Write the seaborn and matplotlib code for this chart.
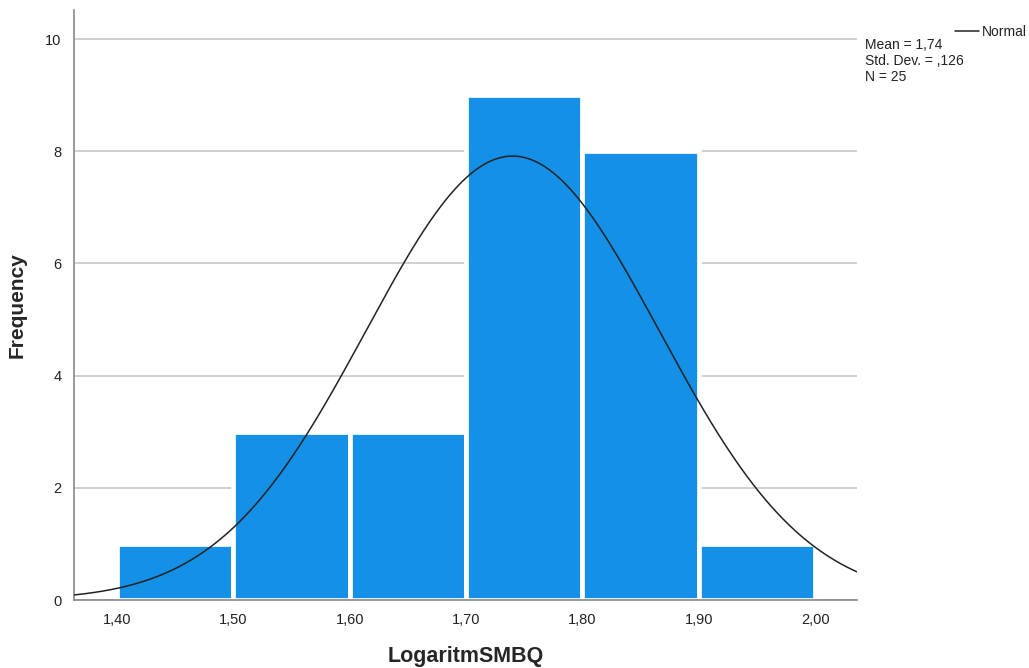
import numpy as np
import pandas as pd
import matplotlib
matplotlib.use("Agg")
import matplotlib.pyplot as plt
import seaborn as sns

bin_edges = [1.40, 1.50, 1.60, 1.70, 1.80, 1.90, 2.00]
counts = [1, 3, 3, 9, 8, 1]
mean_val = 1.74
sd_val = 0.126
n_val = 25
x_tick_labels = ["1,40", "1,50", "1,60", "1,70", "1,80", "1,90", "2,00"]
y_ticks = [0, 2, 4, 6, 8, 10]

sns.set_theme(style="white")
plt.rcParams['font.family'] = ['Liberation Sans', 'DejaVu Sans']

fig = plt.figure(figsize=(10.29, 6.68), dpi=100)
ax = fig.add_axes([74/1029, 1 - 600/668, (857-74)/1029, (600-10)/668])

centers = [(bin_edges[i] + bin_edges[i+1]) / 2 for i in range(len(counts))]
df = pd.DataFrame({"x": centers, "w": counts})
sns.histplot(data=df, x="x", weights="w", bins=bin_edges, ax=ax,
             color="#1490E6", alpha=1, edgecolor="white", linewidth=3.4, zorder=2)

xs = np.linspace(1.363, 2.036, 400)
binw = bin_edges[1] - bin_edges[0]
ys = n_val * binw / (sd_val * np.sqrt(2 * np.pi)) * np.exp(-0.5 * ((xs - mean_val) / sd_val) ** 2)
sns.lineplot(x=xs, y=ys, ax=ax, color="#222222", linewidth=1.1, zorder=3)

ax.set_xlim(1.363, 2.036)
ax.set_ylim(0, 10.52)
ax.set_xticks(bin_edges)
ax.set_xticklabels(x_tick_labels)
ax.set_yticks(y_ticks)
ax.set_yticklabels([str(t) for t in y_ticks])
ax.tick_params(axis='both', length=0, labelsize=10.5, colors="#222222", pad=9)
ax.yaxis.grid(True, color="#C8C8C8", linewidth=1.2, zorder=0)
ax.set_axisbelow(True)
for s in ["top", "right"]:
    ax.spines[s].set_visible(False)
for s in ["left", "bottom"]:
    ax.spines[s].set_color("#888888")
    ax.spines[s].set_linewidth(1.2)

ax.set_xlabel("LogaritmSMBQ", fontsize=15.5, fontweight="bold", labelpad=14)
ax.set_ylabel("Frequency", fontsize=15, fontweight="bold", labelpad=13)

fig.lines.append(plt.Line2D([955/1029, 979/1029], [1 - 31/668, 1 - 31/668],
                            transform=fig.transFigure, color="#222222", linewidth=1.1))
fig.text(982/1029, 1 - 32/668, "Normal", fontsize=10, va="center", ha="left", color="#222222")
fig.text(865/1029, 1 - 38/668, "Mean = 1,74\nStd. Dev. = ,126\nN = 25",
         fontsize=10, va="top", ha="left", color="#222222", linespacing=1.2)

fig.savefig("out.png", dpi=100)
